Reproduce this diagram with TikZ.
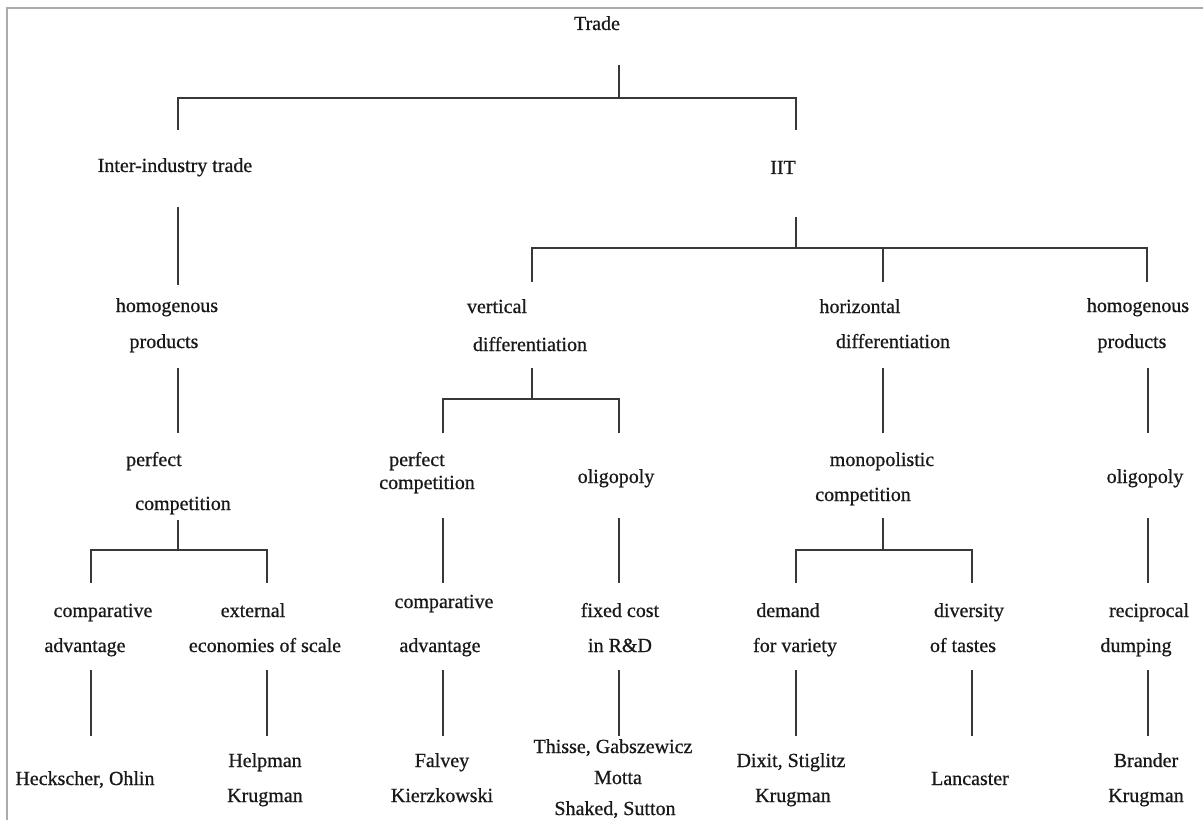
\documentclass[tikz,border=0pt]{standalone}
\usepackage{fontspec}
\setmainfont{Liberation Serif}[FakeBold=0.7]
\begin{document}
\begin{tikzpicture}[x=0.75pt,y=-0.75pt,
  lbl/.style={anchor=base,inner sep=0pt,text=black!90,font=\fontsize{15}{18}\selectfont},
  conn/.style={draw=black!78,line width=1.4pt},
  frame/.style={draw=black!33,line width=1.6pt}]
\useasboundingbox (0,0) rectangle (1203,820);
\fill[white] (0,0) rectangle (1203,820);
% frame (top and left)
\draw[frame] (1203,8) coordinate (fr1) -- (7,8) coordinate (fr0) -- (7,820) coordinate (fr2);
% ---------- texts ----------
\node[lbl] (trade) at (597,30) {Trade};
\node[lbl] (inter) at (175,172) {Inter-industry trade};
\node[lbl] (iit) at (783,174) {IIT};
% level 2
\node[lbl] (homLa) at (167,312) {homogenous};
\node[lbl] (homLb) at (164,348) {products};
\node[lbl] (verta) at (497,313) {vertical};
\node[lbl] (vertb) at (530,351) {differentiation};
\node[lbl] (hora) at (860,313) {horizontal};
\node[lbl] (horb) at (893,348) {differentiation};
\node[lbl] (homRa) at (1138,312) {homogenous};
\node[lbl] (homRb) at (1132,348) {products};
% level 3
\node[lbl] (pcLa) at (154,466) {perfect};
\node[lbl] (pcLb) at (183,510) {competition};
\node[lbl] (pcMa) at (417,466) {perfect};
\node[lbl] (pcMb) at (427,489) {competition};
\node[lbl] (oliM) at (616,483) {oligopoly};
\node[lbl] (mona) at (882,466) {monopolistic};
\node[lbl] (monb) at (863,501) {competition};
\node[lbl] (oliR) at (1145,483) {oligopoly};
% level 4
\node[lbl] (caLa) at (103,617) {comparative};
\node[lbl] (caLb) at (85,652) {advantage};
\node[lbl] (exta) at (253,617) {external};
\node[lbl] (extb) at (265,652) {economies of scale};
\node[lbl] (caMa) at (444,608) {comparative};
\node[lbl] (caMb) at (440,652) {advantage};
\node[lbl] (fixa) at (620,617) {fixed cost};
\node[lbl] (fixb) at (620,652) {in R\&D};
\node[lbl] (dema) at (788,617) {demand};
\node[lbl] (demb) at (795,652) {for variety};
\node[lbl] (diva) at (969,617) {diversity};
\node[lbl] (divb) at (963,652) {of tastes};
\node[lbl] (reca) at (1149,617) {reciprocal};
\node[lbl] (recb) at (1136,652) {dumping};
% level 5
\node[lbl] (heck) at (85,785) {Heckscher, Ohlin};
\node[lbl] (helpa) at (265,767) {Helpman};
\node[lbl] (helpb) at (265,802) {Krugman};
\node[lbl] (falva) at (442,767) {Falvey};
\node[lbl] (falvb) at (442,802) {Kierzkowski};
\node[lbl] (thia) at (613,753) {Thisse, Gabszewicz};
\node[lbl] (thib) at (618,784) {Motta};
\node[lbl] (thic) at (615,815) {Shaked, Sutton};
\node[lbl] (dixa) at (791,767) {Dixit, Stiglitz};
\node[lbl] (dixb) at (793,802) {Krugman};
\node[lbl] (lanc) at (970,785) {Lancaster};
\node[lbl] (branda) at (1146,767) {Brander};
\node[lbl] (brandb) at (1146,802) {Krugman};
% ---------- connectors ----------
% Trade
\draw[conn] (619,65) coordinate (t0) -- (619,98) coordinate (t1);
\draw[conn] (178,130) coordinate (t2) -- (178,98) coordinate (t3) -- (796,98) coordinate (t4) -- (796,130) coordinate (t5);
% Inter-industry
\draw[conn] (178,207) coordinate (i0) -- (178,285) coordinate (i1);
\draw[conn] (178,368) coordinate (h0) -- (178,433) coordinate (h1);
\draw[conn] (178,520) coordinate (p0) -- (178,550) coordinate (p1);
\draw[conn] (91,583) coordinate (p2) -- (91,550) coordinate (p3) -- (267,550) coordinate (p4) -- (267,583) coordinate (p5);
\draw[conn] (91,670) coordinate (c0) -- (91,736) coordinate (c1);
\draw[conn] (267,670) coordinate (e0) -- (267,736) coordinate (e1);
% IIT
\draw[conn] (796,217) coordinate (j0) -- (796,248) coordinate (j1);
\draw[conn] (532,282) coordinate (j2) -- (532,248) coordinate (j3) -- (1147,248) coordinate (j4) -- (1147,282) coordinate (j5);
\draw[conn] (883,248) coordinate (j6) -- (883,282) coordinate (j7);
% vertical differentiation
\draw[conn] (532,368) coordinate (v0) -- (532,399) coordinate (v1);
\draw[conn] (443,433) coordinate (v2) -- (443,399) coordinate (v3) -- (619,399) coordinate (v4) -- (619,433) coordinate (v5);
\draw[conn] (443,518) coordinate (m0) -- (443,583) coordinate (m1);
\draw[conn] (619,518) coordinate (o0) -- (619,583) coordinate (o1);
\draw[conn] (443,670) coordinate (m2) -- (443,736) coordinate (m3);
\draw[conn] (619,670) coordinate (o2) -- (619,736) coordinate (o3);
% horizontal differentiation
\draw[conn] (883,368) coordinate (z0) -- (883,433) coordinate (z1);
\draw[conn] (883,518) coordinate (z2) -- (883,550) coordinate (z3);
\draw[conn] (796,583) coordinate (z4) -- (796,550) coordinate (z5) -- (972,550) coordinate (z6) -- (972,583) coordinate (z7);
\draw[conn] (796,670) coordinate (d0) -- (796,736) coordinate (d1);
\draw[conn] (972,670) coordinate (s0) -- (972,736) coordinate (s1);
% homogenous products (right)
\draw[conn] (1148,368) coordinate (r0) -- (1148,433) coordinate (r1);
\draw[conn] (1148,518) coordinate (r2) -- (1148,583) coordinate (r3);
\draw[conn] (1148,670) coordinate (r4) -- (1148,736) coordinate (r5);
\end{tikzpicture}
\end{document}
